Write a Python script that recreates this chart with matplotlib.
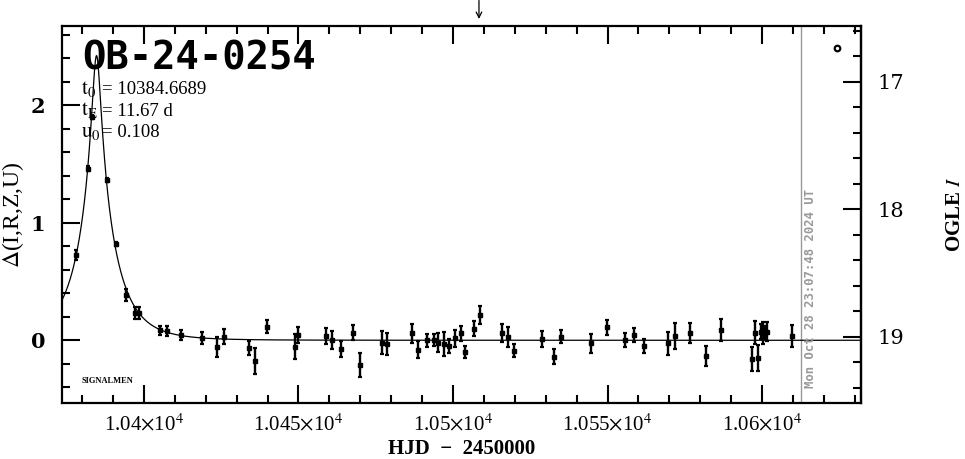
import numpy as np
import matplotlib
matplotlib.use("Agg")
import matplotlib.pyplot as plt
from matplotlib.ticker import MultipleLocator, FuncFormatter, FixedLocator

plt.rcParams['mathtext.fontset'] = 'stix'

# ---------------- data ----------------
event_name = "OB-24-0254"
t0 = 10384.6689
tE = 11.67
u0 = 0.108

hjd = [10378.0, 10382.0, 10383.1, 10387.9, 10391.1, 10394.1, 10397.1, 10398.5,
       10405.2, 10407.5, 10411.9, 10418.9, 10423.8, 10425.9, 10434.0, 10435.9,
       10439.9, 10448.8, 10449.7, 10458.8, 10460.8, 10463.7, 10467.8, 10470.0,
       10477.0, 10478.8, 10486.7, 10488.8, 10491.7, 10493.8, 10495.2, 10497.0,
       10498.7, 10500.6, 10502.5, 10503.8, 10506.8, 10508.7, 10515.9, 10517.8,
       10519.7, 10528.8, 10532.8, 10534.8, 10544.7, 10549.7, 10555.8, 10558.7,
       10561.7, 10569.6, 10571.7, 10576.7, 10581.8, 10586.7, 10596.7, 10597.8,
       10598.7, 10599.8, 10600.4, 10601.1, 10601.6, 10609.6]
dmag = [0.725, 1.46, 1.90, 1.363, 0.819, 0.385, 0.23, 0.23,
        0.085, 0.08, 0.045, 0.02, -0.054, 0.03, -0.068, -0.18,
        0.116, -0.054, 0.045, 0.037, 0.0, -0.077, 0.065, -0.21,
        -0.02, -0.03, 0.06, -0.08, 0.0, 0.0, -0.02, -0.03,
        -0.048, 0.017, 0.06, -0.097, 0.10, 0.215, 0.06, 0.03,
        -0.088, 0.01, -0.14, 0.03, -0.026, 0.11, 0.0, 0.045,
        -0.048, -0.026, 0.037, 0.06, -0.134, 0.088, -0.16, 0.065,
        -0.153, 0.073, 0.06, 0.065, 0.073, 0.037]
err = [0.04, 0.02, 0.02, 0.02, 0.02, 0.05, 0.05, 0.05,
       0.04, 0.04, 0.04, 0.05, 0.085, 0.065, 0.06, 0.11,
       0.054, 0.106, 0.065, 0.065, 0.075, 0.067, 0.061, 0.10,
       0.096, 0.096, 0.082, 0.072, 0.057, 0.05, 0.082, 0.104,
       0.06, 0.071, 0.065, 0.052, 0.061, 0.074, 0.078, 0.085,
       0.054, 0.067, 0.062, 0.057, 0.081, 0.064, 0.061, 0.061,
       0.06, 0.10, 0.11, 0.085, 0.082, 0.09, 0.105, 0.095,
       0.11, 0.064, 0.092, 0.057, 0.081, 0.092]

extra_hjd = [10624.3]
extra_dmag = [2.486]

now_hjd = 10612.46
now_label = "Mon Oct 28 23:07:48 2024 UT"
arrow_hjd = 10508.4

xlim = (10373.5, 10632.0)
ylim = (-0.531, 2.673)

# right axis (OGLE I = I0 - k * delta)
I0 = 19.026
k_mag = 0.922
ogle_ticks = [17, 18, 19]

# ---------------- figure ----------------
W, H = 965, 459
fig = plt.figure(figsize=(W / 100, H / 100), dpi=100)
L, R, T, B = 62, 861, 26, 402.7
ax = fig.add_axes([L / W, 1 - B / H, (R - L) / W, (B - T) / H])

# model curve from the fitted parameters
tt = np.linspace(xlim[0], xlim[1], 3000)
uu = np.sqrt(u0 ** 2 + ((tt - t0) / tE) ** 2)
AA = (uu ** 2 + 2) / (uu * np.sqrt(uu ** 2 + 4))
ax.plot(tt, 2.5 * np.log10(AA), color='k', lw=0.9, zorder=2)

ax.errorbar(hjd, dmag, yerr=err, fmt='s', ms=2.5, color='k', ecolor='k',
            elinewidth=1.7, capsize=1.5, capthick=1.6, zorder=3)
ax.plot(extra_hjd, extra_dmag, 'o', ms=4, mfc='white', mec='k', mew=1.6)

ax.axvline(now_hjd, color='#999999', lw=1.0, zorder=1)
ax.text(now_hjd + 1.0, -0.41, now_label, rotation=90, ha='left', va='bottom',
        color='#999999', fontsize=8.8, family='DejaVu Sans Mono', weight='bold')

ax.set_xlim(*xlim)
ax.set_ylim(*ylim)

for s in ax.spines.values():
    s.set_linewidth(1.6)

ax.xaxis.set_major_locator(MultipleLocator(50))
ax.xaxis.set_minor_locator(MultipleLocator(10))
ax.yaxis.set_major_locator(FixedLocator([0, 1, 2]))
ax.yaxis.set_minor_locator(MultipleLocator(0.2))
ax.tick_params(which='both', direction='in', top=True, right=False, width=1.5)
ax.tick_params(which='major', length=13)
ax.tick_params(which='minor', length=6)
ax.tick_params(axis='x', which='major', pad=8)
ax.tick_params(axis='y', which='major', pad=12)


def xfmt(v, p):
    return r"%g$\times$10$^{4}$" % (v / 1e4)


ax.xaxis.set_major_formatter(FuncFormatter(xfmt))
ax.yaxis.set_major_formatter(FuncFormatter(lambda v, p: "%d" % round(v)))
for lab in ax.get_xticklabels():
    lab.set_fontfamily('Liberation Serif')
    lab.set_fontsize(15)
for lab in ax.get_yticklabels():
    lab.set_fontfamily('DejaVu Serif')
    lab.set_fontweight('bold')
    lab.set_fontsize(15)

sec = ax.secondary_yaxis('right', functions=(lambda d: I0 - k_mag * d,
                                             lambda m: (I0 - m) / k_mag))
sec.yaxis.set_major_locator(FixedLocator(ogle_ticks))
sec.yaxis.set_minor_locator(MultipleLocator(0.2))
sec.tick_params(which='both', direction='in', width=1.5)
sec.tick_params(which='major', length=13, pad=12)
sec.tick_params(which='minor', length=6)
sec.spines['right'].set_linewidth(1.6)
sec.yaxis.set_major_formatter(FuncFormatter(lambda v, p: "%d" % round(v)))
for lab in sec.get_yticklabels():
    lab.set_fontfamily('DejaVu Serif')
    lab.set_fontsize(15)

# texts
fig.text(82 / W, 1 - 69 / H, event_name,
         family='DejaVu Sans Mono', weight='bold', fontsize=28, va='baseline')
param_names = [r"$\mathrm{t_0}$", r"$\mathrm{t_E}$", r"$\mathrm{u_0}$"]
param_vals = ["= %.4f" % t0, "= %.2f d" % tE, "= %.3f" % u0]
for i, (nm, vl) in enumerate(zip(param_names, param_vals)):
    yb = 1 - (94 + 21.5 * i) / H
    fig.text(81 / W, yb, nm, family='Liberation Serif', fontsize=15,
             va='baseline')
    fig.text(102 / W, yb, vl, family='Liberation Serif', fontsize=13.5,
             va='baseline')
fig.text(82 / W, 1 - 383 / H, "SIGNALMEN", family='Liberation Serif',
         weight='bold', fontsize=6, va='baseline')

fig.text(13 / W, 1 - 215 / H, r"$\Delta$(I,R,Z,U)", rotation=90,
         ha='center', va='center', family='Liberation Serif', fontsize=17)
fig.text(955 / W, 1 - 214 / H, r"OGLE $\mathit{I}$", rotation=90,
         ha='center', va='center', family='Liberation Serif', weight='bold',
         fontsize=15)
fig.text(462 / W, 1 - 449 / H, "HJD  \u2212  2450000", ha='center',
         va='center', family='Liberation Serif', weight='bold', fontsize=15)

ax.annotate('', xy=(arrow_hjd, 1 - 19 / H), xycoords=('data', 'figure fraction'),
            xytext=(arrow_hjd, 0.999), textcoords=('data', 'figure fraction'),
            arrowprops=dict(arrowstyle='->', color='k', lw=0.9,
                            shrinkA=0, shrinkB=0))

fig.savefig('out.png', dpi=100)
